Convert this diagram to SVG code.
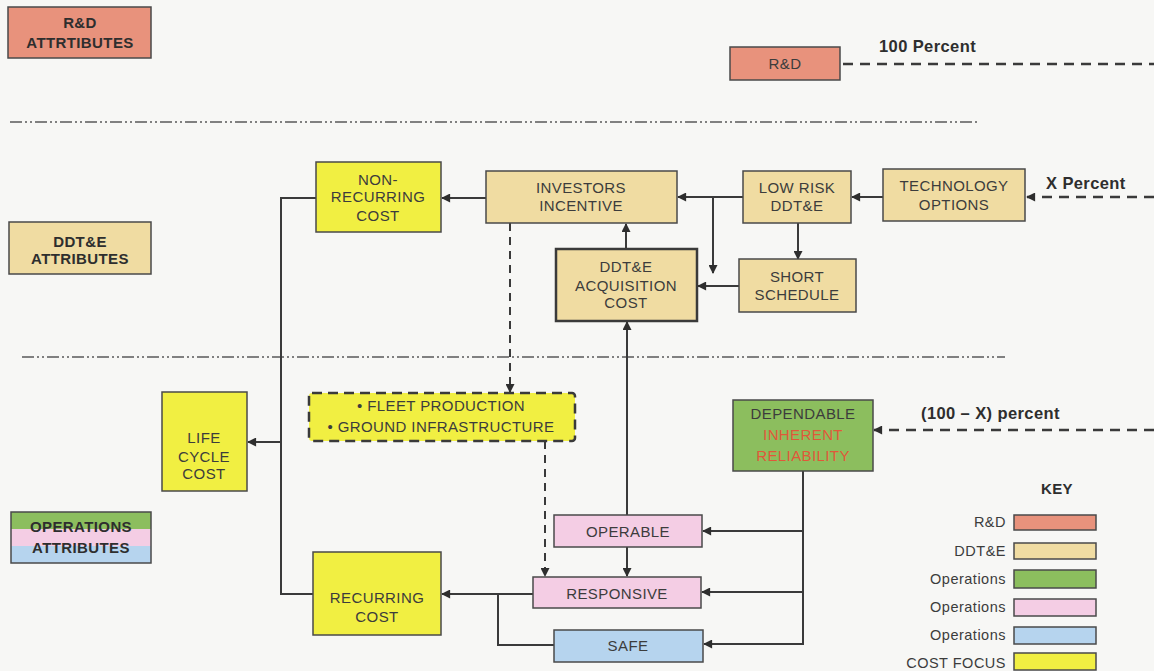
<svg xmlns="http://www.w3.org/2000/svg" width="1154" height="671" viewBox="0 0 1154 671">
  <style>
    text { font-family: "Liberation Sans", Arial, sans-serif; font-size: 15px; letter-spacing: 0.4px; fill: #3c3c3c; text-anchor: middle; }
    .b { font-weight: bold; fill: #2e2e2e; }
    .lbl { font-weight: bold; font-size: 16.5px; letter-spacing: 0.4px; text-anchor: start; fill: #2e2e2e; }
    .key { text-anchor: end; font-size: 14.5px; letter-spacing: 0.5px; }
    .box { stroke: #4a4a4a; stroke-width: 1.5; }
    .rd { fill: #e8927c; }
    .dd { fill: #f0dca2; }
    .op { fill: #8cbe5e; }
    .pk { fill: #f4cde4; }
    .bl { fill: #b6d4ee; }
    .cf { fill: #f1ef42; }
    .ln { fill: none; stroke: #3a3a3a; stroke-width: 2; }
    .dash { fill: none; stroke: #3a3a3a; stroke-width: 2.5; stroke-dasharray: 10 7; }
    .dash2 { fill: none; stroke: #3a3a3a; stroke-width: 2; stroke-dasharray: 8 6; }
    .sep { fill: none; stroke: #5a5a5a; stroke-width: 1.5; stroke-dasharray: 12 3 2 3 2 3; }
  </style>
  <defs>
    <marker id="ah" viewBox="0 0 10 10" refX="9" refY="5" markerWidth="10" markerHeight="9" markerUnits="userSpaceOnUse" orient="auto">
      <path d="M0,0 L10,5 L0,10 z" fill="#2e2e2e"/>
    </marker>
    <linearGradient id="opsband" x1="0" y1="0" x2="0" y2="1">
      <stop offset="0" stop-color="#8cbe5e"/>
      <stop offset="0.33" stop-color="#8cbe5e"/>
      <stop offset="0.33" stop-color="#f4cde4"/>
      <stop offset="0.66" stop-color="#f4cde4"/>
      <stop offset="0.66" stop-color="#b6d4ee"/>
      <stop offset="1" stop-color="#b6d4ee"/>
    </linearGradient>
  </defs>

  <rect width="1154" height="671" fill="#f7f7f5"/>

  <!-- band separators -->
  <line class="sep" x1="10" y1="122" x2="980" y2="122"/>
  <line class="sep" x1="22" y1="357" x2="1005" y2="357"/>

  <!-- band labels -->
  <g id="rd-attributes">
    <rect class="box rd" x="8" y="7" width="143" height="51"/>
    <text class="b" x="80" y="28">R&amp;D</text>
    <text class="b" x="80" y="48">ATTRTIBUTES</text>
  </g>
  <g id="ddte-attributes">
    <rect class="box dd" x="9" y="222" width="142" height="52"/>
    <text class="b" x="80" y="247">DDT&amp;E</text>
    <text class="b" x="80" y="264">ATTRIBUTES</text>
  </g>
  <g id="ops-attributes">
    <rect class="box" fill="url(#opsband)" x="11" y="512" width="140" height="51"/>
    <text class="b" x="81" y="532">OPERATIONS</text>
    <text class="b" x="81" y="553">ATTRIBUTES</text>
  </g>

  <!-- connectors -->
  <g id="connectors">
    <!-- funding inputs -->
    <line class="dash" x1="843" y1="64" x2="1154" y2="64"/>
    <line class="dash" x1="1154" y1="197" x2="1027" y2="197" marker-end="url(#ah)"/>
    <line class="dash" x1="1154" y1="430" x2="874" y2="430" marker-end="url(#ah)"/>

    <!-- DDT&E chain -->
    <line class="ln" x1="883" y1="197" x2="852" y2="197" marker-end="url(#ah)"/>
    <line class="ln" x1="743" y1="197" x2="678" y2="197" marker-end="url(#ah)"/>
    <line class="ln" x1="713" y1="197" x2="713" y2="273" marker-end="url(#ah)"/>
    <line class="ln" x1="798" y1="223" x2="798" y2="259" marker-end="url(#ah)"/>
    <line class="ln" x1="739" y1="286" x2="698" y2="286" marker-end="url(#ah)"/>
    <line class="ln" x1="626" y1="249" x2="626" y2="224" marker-end="url(#ah)"/>
    <line class="ln" x1="486" y1="198" x2="442" y2="198" marker-end="url(#ah)"/>

    <!-- cost roll-up -->
    <polyline class="ln" points="316,198 281,198 281,594 313,594"/>
    <line class="ln" x1="281" y1="442" x2="248" y2="442" marker-end="url(#ah)"/>

    <!-- investors to production (dashed) -->
    <line class="dash2" x1="510" y1="223" x2="510" y2="392" marker-end="url(#ah)"/>
    <line class="dash2" x1="545" y1="441" x2="545" y2="576" marker-end="url(#ah)"/>

    <!-- operations -->
    <line class="ln" x1="627" y1="515" x2="627" y2="322" marker-end="url(#ah)"/>
    <line class="ln" x1="627" y1="547" x2="627" y2="576" marker-end="url(#ah)"/>
    <polyline class="ln" points="803,471 803,644 704,644"/>
    <line class="ln" x1="803" y1="531" x2="703" y2="531" marker-end="url(#ah)"/>
    <line class="ln" x1="803" y1="592" x2="702" y2="592" marker-end="url(#ah)"/>
    <line class="ln" x1="803" y1="644" x2="704" y2="644" marker-end="url(#ah)"/>
    <line class="ln" x1="533" y1="594" x2="442" y2="594" marker-end="url(#ah)"/>
    <polyline class="ln" points="554,645 498,645 498,594"/>
  </g>

  <!-- funding labels -->
  <text class="lbl" x="879" y="52">100 Percent</text>
  <text class="lbl" x="1046" y="189">X Percent</text>
  <text class="lbl" x="921" y="419">(100 – X) percent</text>

  <!-- R&D -->
  <g id="rd">
    <rect class="box rd" x="730" y="47" width="110" height="33"/>
    <text x="785" y="69">R&amp;D</text>
  </g>

  <!-- DDT&E nodes -->
  <g id="technology-options">
    <rect class="box dd" x="883" y="169" width="142" height="52"/>
    <text x="954" y="191">TECHNOLOGY</text>
    <text x="954" y="210">OPTIONS</text>
  </g>
  <g id="low-risk-ddte">
    <rect class="box dd" x="743" y="171" width="108" height="52"/>
    <text x="797" y="193">LOW RISK</text>
    <text x="797" y="211">DDT&amp;E</text>
  </g>
  <g id="short-schedule">
    <rect class="box dd" x="739" y="259" width="117" height="53"/>
    <text x="797" y="282">SHORT</text>
    <text x="797" y="300">SCHEDULE</text>
  </g>
  <g id="investors-incentive">
    <rect class="box dd" x="486" y="171" width="191" height="52"/>
    <text x="581" y="193">INVESTORS</text>
    <text x="581" y="211">INCENTIVE</text>
  </g>
  <g id="ddte-acquisition-cost">
    <rect class="dd" x="556" y="249" width="141" height="72" stroke="#3a3a3a" stroke-width="2.5"/>
    <text x="626" y="272">DDT&amp;E</text>
    <text x="626" y="291">ACQUISITION</text>
    <text x="626" y="308">COST</text>
  </g>

  <!-- cost focus nodes -->
  <g id="non-recurring-cost">
    <rect class="box cf" x="316" y="162" width="125" height="70"/>
    <text x="378" y="185">NON-</text>
    <text x="378" y="202">RECURRING</text>
    <text x="378" y="221">COST</text>
  </g>
  <g id="life-cycle-cost">
    <rect class="box cf" x="162" y="392" width="85" height="99"/>
    <text x="204" y="443">LIFE</text>
    <text x="204" y="462">CYCLE</text>
    <text x="204" y="479">COST</text>
  </g>
  <g id="fleet-ground">
    <rect class="cf" x="309" y="393" width="266" height="48" rx="3" stroke="#3a3a3a" stroke-width="2.5" stroke-dasharray="10 6"/>
    <text x="441" y="411">• FLEET PRODUCTION</text>
    <text x="441" y="432">• GROUND INFRASTRUCTURE</text>
  </g>
  <g id="recurring-cost">
    <rect class="box cf" x="313" y="552" width="128" height="83"/>
    <text x="377" y="603">RECURRING</text>
    <text x="377" y="622">COST</text>
  </g>

  <!-- operations nodes -->
  <g id="dependable">
    <rect class="box op" x="733" y="400" width="140" height="71"/>
    <text x="803" y="419" fill="#3c4a30">DEPENDABLE</text>
    <text x="803" y="440" style="fill:#e0583a">INHERENT</text>
    <text x="803" y="461" style="fill:#e0583a">RELIABILITY</text>
  </g>
  <g id="operable">
    <rect class="box pk" x="554" y="515" width="148" height="32"/>
    <text x="628" y="537">OPERABLE</text>
  </g>
  <g id="responsive">
    <rect class="box pk" x="533" y="577" width="168" height="31"/>
    <text x="617" y="599">RESPONSIVE</text>
  </g>
  <g id="safe">
    <rect class="box bl" x="554" y="630" width="149" height="32"/>
    <text x="628" y="651">SAFE</text>
  </g>

  <!-- key -->
  <g id="key">
    <text class="b" x="1057" y="494" style="font-size:15px">KEY</text>
    <rect class="box rd" x="1014" y="515" width="82" height="15"/>
    <rect class="box dd" x="1014" y="543" width="82" height="16"/>
    <rect class="box op" x="1014" y="570" width="82" height="18"/>
    <rect class="box pk" x="1014" y="599" width="82" height="17"/>
    <rect class="box bl" x="1014" y="627" width="82" height="17"/>
    <rect class="box cf" x="1014" y="653" width="82" height="17"/>
    <text class="key" x="1006" y="527">R&amp;D</text>
    <text class="key" x="1006" y="556">DDT&amp;E</text>
    <text class="key" x="1006" y="584">Operations</text>
    <text class="key" x="1006" y="612">Operations</text>
    <text class="key" x="1006" y="640">Operations</text>
    <text class="key" x="1006" y="668">COST FOCUS</text>
  </g>
</svg>
